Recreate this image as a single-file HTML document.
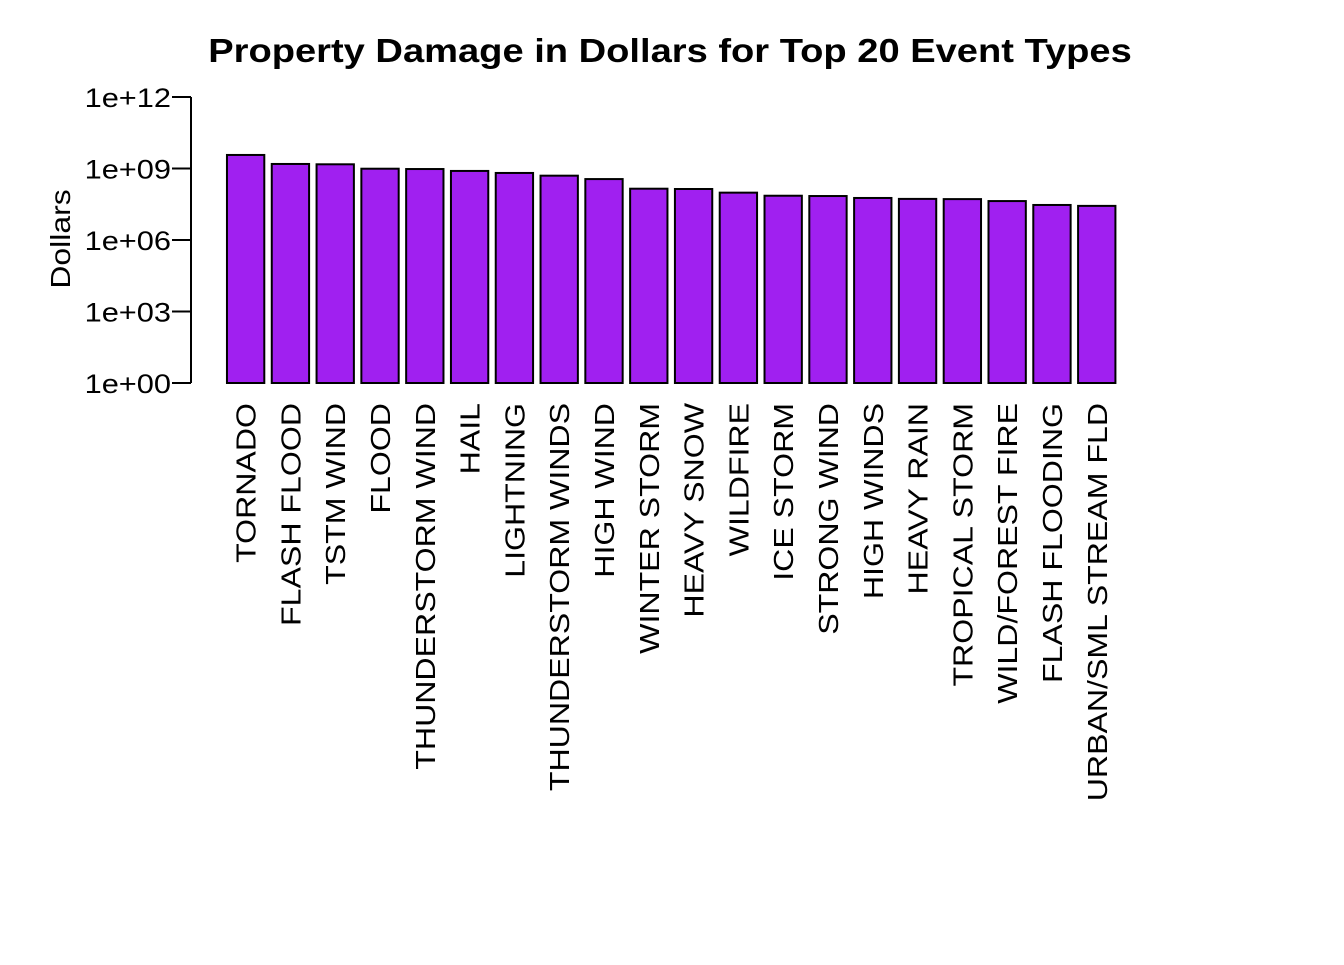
<!DOCTYPE html>
<html><head><meta charset="utf-8"><style>
body{margin:0;background:#fff}
svg text{font-family:"Liberation Sans",Arial,sans-serif;fill:#000}
</style></head><body>
<svg id="c" width="1344" height="960">
<text transform="translate(670,62) scale(1.155,1)" text-anchor="middle" font-size="33" font-weight="bold">Property Damage in Dollars for Top 20 Event Types</text>
<text transform="translate(70,239) rotate(-90) scale(1.14,1)" text-anchor="middle" font-size="28">Dollars</text>
<g id="yaxis"></g>
<g id="bars"></g>
<g id="xlabels"></g>
</svg>
<script>
const categories=["TORNADO","FLASH FLOOD","TSTM WIND","FLOOD","THUNDERSTORM WIND","HAIL","LIGHTNING","THUNDERSTORM WINDS","HIGH WIND","WINTER STORM","HEAVY SNOW","WILDFIRE","ICE STORM","STRONG WIND","HIGH WINDS","HEAVY RAIN","TROPICAL STORM","WILD/FOREST FIRE","FLASH FLOODING","URBAN/SML STREAM FLD"];
const values=[3.7e9,1.55e9,1.5e9,9.8e8,9.5e8,7.9e8,6.5e8,5.0e8,3.6e8,1.42e8,1.38e8,9.7e7,7.2e7,7.0e7,5.8e7,5.3e7,5.2e7,4.3e7,2.95e7,2.7e7];
const tickValues=[1,1e3,1e6,1e9,1e12];
const tickLabels=["1e+00","1e+03","1e+06","1e+09","1e+12"];
const NS="http://www.w3.org/2000/svg";
const yTop=97,yBot=383;
function y(v){return yBot-(Math.log10(v)/12)*(yBot-yTop);}
const unit=37.33,x0=219.5;
function xLeft(i){return x0+unit*(0.2+i*1.2);}
function mk(t,a,p){const e=document.createElementNS(NS,t);for(const k in a)e.setAttribute(k,a[k]);p.appendChild(e);return e;}
const ya=document.getElementById('yaxis');
const ax=mk('line',{x1:191,x2:191,y1:y(1e12),y2:y(1),stroke:'#000','stroke-width':2},ya);


tickValues.forEach((v,i)=>{
 const t=mk('line',{x1:172,x2:191,y1:y(v),y2:y(v),stroke:'#000','stroke-width':2},ya);
 
 
 const l=mk('text',{transform:`translate(171,${y(v)+10}) scale(1.14,1)`,'text-anchor':'end','font-size':27},ya);
 l.textContent=tickLabels[i];
 
 
});
const bg=document.getElementById('bars'),xl=document.getElementById('xlabels');
values.forEach((v,i)=>{
 const xl0=xLeft(i),top=y(v);
 const r=mk('rect',{x:xl0,y:top,width:unit,height:y(1)-top,fill:'#A020F0',stroke:'#000','stroke-width':2},bg);
 
 
 const cx=xl0+unit/2+10;
 const t=mk('text',{transform:`translate(${cx},403) rotate(-90) scale(1.147,1)`,'text-anchor':'end','font-size':28},xl);
 t.textContent=categories[i];
 
 
});
</script>
</body></html>
